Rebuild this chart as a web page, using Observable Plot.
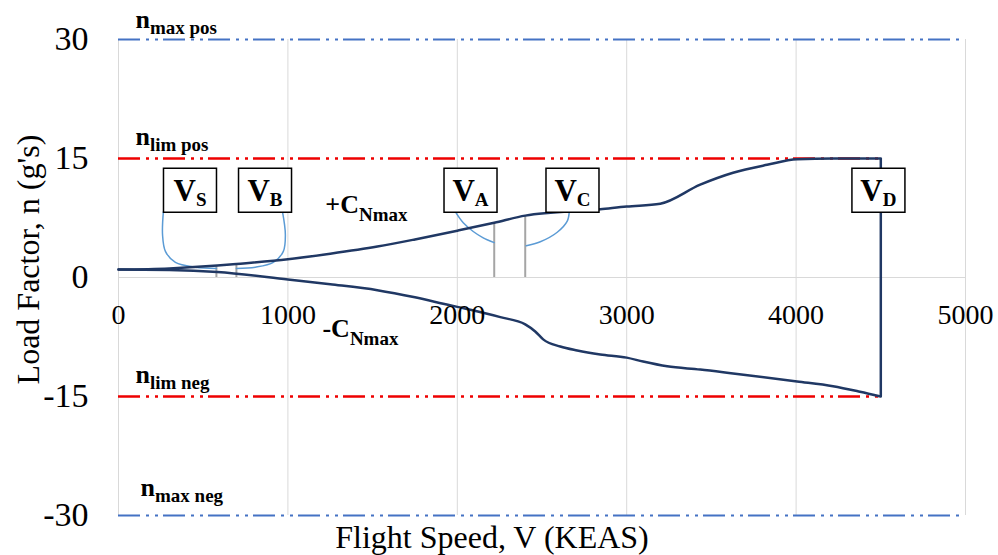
<!DOCTYPE html>
<html><head><meta charset="utf-8">
<script src="https://cdn.jsdelivr.net/npm/d3@7"></script>
<script src="https://cdn.jsdelivr.net/npm/@observablehq/plot@0.6"></script>
<style>body{margin:0;background:#fff} #chart{width:998px;height:555px} #chart text{font-family:'Liberation Serif','Times New Roman',Times,serif}</style>
</head><body><div id="chart"></div>
<script>
// ---- data ----
const xTicks = [0, 1000, 2000, 3000, 4000, 5000];
const yTicks = [-30, -15, 0, 15, 30];
const nMax = [30, -30];
const nLim = [15, -15];
const VD = 4500;

const upperV = [0, 300, 584, 696, 1000, 1250, 1528, 1750, 2000, 2218, 2401, 2844, 3000, 3198, 3434, 3628, 3829, 4006, 4218, 4500];
const upperN = [1.0, 1.15, 1.5, 1.7, 2.3, 3.0, 3.9, 4.8, 5.9, 6.9, 7.8, 8.6, 8.95, 9.3, 11.7, 13.2, 14.2, 14.9, 15.0, 15.0];
const lowerV = [0, 300, 584, 1000, 1250, 1528, 1750, 1917, 2000, 2254, 2401, 2460, 2507, 2608, 2708, 2844, 3000, 3097, 3239, 3434, 3628, 4006, 4218, 4377, 4500];
const lowerN = [1.0, 0.95, 0.7, -0.25, -0.85, -1.6, -2.5, -3.3, -3.7, -5.0, -5.9, -6.8, -7.8, -8.7, -9.2, -9.7, -10.1, -10.6, -11.2, -11.6, -12.1, -13.1, -13.7, -14.4, -15.0];

const tickV = [578, 696, 2218, 2401];
const tickN = [1.5, 1.7, 6.9, 7.8];

const boxText = ["V|S", "V|B", "V|A", "V|C", "V|D"];
const boxV = [422, 865, 2078, 2680, 4486];
const boxN = [11, 11, 11, 11, 11];

const connId = ["S","S","S","S","S","S", "B","B","B","B","B","B", "A","A","A","A","A", "C","C","C","C","C"];
const connV = [265, 260, 277, 336, 454, 578,  968, 985, 973, 914, 808, 696,  1988, 2035, 2094, 2153, 2218,  2661, 2649, 2590, 2490, 2407];
const connN = [8.3, 5.4, 3.3, 1.9, 1.3, 1.15,  8.3, 5.4, 3.3, 1.9, 1.3, 1.15,  8.3, 6.9, 5.8, 5.0, 4.4,  8.3, 7.1, 5.7, 4.5, 4.0];

const regionText = ["n|max pos", "n|lim pos", "n|lim neg", "n|max neg", "+C|Nmax", "-C|Nmax"];
const regionV = [100, 100, 100, 130, 1221, 1204];
const regionN = [31.5, 16.64, -13.36, -27.48, 8.19, -7.56];

const xTitle = "Flight Speed, V (KEAS)";
const yTitle = "Load Factor, n (g's)";

// ---- tables ----
const upper = upperV.map((v, i) => ({v, n: upperN[i]}));
const lower = lowerV.map((v, i) => ({v, n: lowerN[i]}));
const ticks = tickV.map((v, i) => ({v, n: tickN[i]}));
const boxes = boxText.map((t, i) => ({t, v: boxV[i], n: boxN[i]}));
const connectors = connV.map((v, i) => ({id: connId[i], v, n: connN[i]}));
const regions = regionText.map((t, i) => ({t, v: regionV[i], n: regionN[i]}));

const navy = "#203864";
const dash = "22,6,3,6,3,5";
const fam = "'Liberation Serif','Times New Roman',Times,serif";
const boxSymbol = {draw(ctx) { ctx.moveTo(-26.5, -22); ctx.lineTo(26.5, -22); ctx.lineTo(26.5, 22); ctx.lineTo(-26.5, 22); ctx.closePath(); }};
const txt = {fill: "black", fontFamily: fam};

const chart = Plot.plot({
  width: 998, height: 555,
  marginTop: 39, marginBottom: 40, marginLeft: 118, marginRight: 33,
  style: {fontFamily: fam, background: "white", color: "black", overflow: "visible"},
  x: {domain: [0, 5000], axis: null},
  y: {domain: [-30, 30], axis: null},
  marks: [
    Plot.ruleX(xTicks, {x: d => d, y1: -30, y2: 30, stroke: "#d9d9d9", strokeWidth: 1}),
    Plot.ruleY([0], {x1: 0, x2: 5000, stroke: "#d9d9d9", strokeWidth: 1}),
    Plot.ruleY(nMax, {x1: 0, x2: 5000, stroke: "#4472c4", strokeWidth: 2.2, strokeDasharray: dash}),
    Plot.ruleY(nLim, {x1: 0, x2: VD, stroke: "#ee0000", strokeWidth: 2.6, strokeDasharray: dash}),
    Plot.ruleX(ticks, {x: "v", y1: 0, y2: "n", stroke: "#a5a5a5", strokeWidth: 2}),
    Plot.line(connectors, {x: "v", y: "n", z: "id", curve: "catmull-rom", stroke: "#5b9bd5", strokeWidth: 1.5}),
    Plot.line(upper, {x: "v", y: "n", curve: "monotone-x", stroke: navy, strokeWidth: 2.5}),
    Plot.line(lower, {x: "v", y: "n", curve: "monotone-x", stroke: navy, strokeWidth: 2.5}),
    Plot.ruleX([VD], {x: d => d, y1: nLim[1], y2: nLim[0], stroke: navy, strokeWidth: 2.5}),
    Plot.dot(boxes, {x: "v", y: "n", symbol: boxSymbol, r: 5, fill: "white", stroke: "black", strokeWidth: 1.5}),
    Plot.text(boxes, {...txt, x: "v", y: "n", text: "t", textAnchor: "middle", lineAnchor: "bottom", dy: 10.5, fontSize: 31, fontWeight: "bold"}),
    Plot.text(regions, {...txt, x: "v", y: "n", text: "t", textAnchor: "start", lineAnchor: "bottom", fontSize: 26, fontWeight: "bold"}),
    Plot.text(xTicks, {...txt, x: d => d, y: 0, text: d => String(d), textAnchor: "middle", lineAnchor: "bottom", dy: 46, fontSize: 28}),
    Plot.text(yTicks, {...txt, x: 0, y: d => d, text: d => String(d), textAnchor: "end", lineAnchor: "middle", dx: -30, fontSize: 34}),
    Plot.text([xTitle], {...txt, text: d => d, frameAnchor: "bottom", textAnchor: "middle", lineAnchor: "bottom", dx: -50, dy: 32, fontSize: 32}),
    Plot.text([yTitle], {...txt, text: d => d, frameAnchor: "left", rotate: -90, textAnchor: "middle", lineAnchor: "bottom", dx: -80, dy: -18, fontSize: 32})
  ]
});

// subscripts
const ns = "http://www.w3.org/2000/svg";
d3.select(chart).selectAll("text").each(function() {
  const t = this.textContent;
  if (!t.includes("|")) return;
  const [main, sub] = t.split("|");
  let subSize = 19, shift = 6;
  if (main === "V") { subSize = 19; shift = 5; }
  else if (main === "n") { subSize = 19; shift = 6; }
  else { subSize = 19; shift = 8; }
  this.textContent = "";
  const a = document.createElementNS(ns, "tspan");
  a.textContent = main;
  const b = document.createElementNS(ns, "tspan");
  b.textContent = sub;
  b.setAttribute("font-size", subSize);
  b.setAttribute("dy", shift);
  this.appendChild(a);
  this.appendChild(b);
});

document.getElementById("chart").appendChild(chart);
</script>
</body></html>
